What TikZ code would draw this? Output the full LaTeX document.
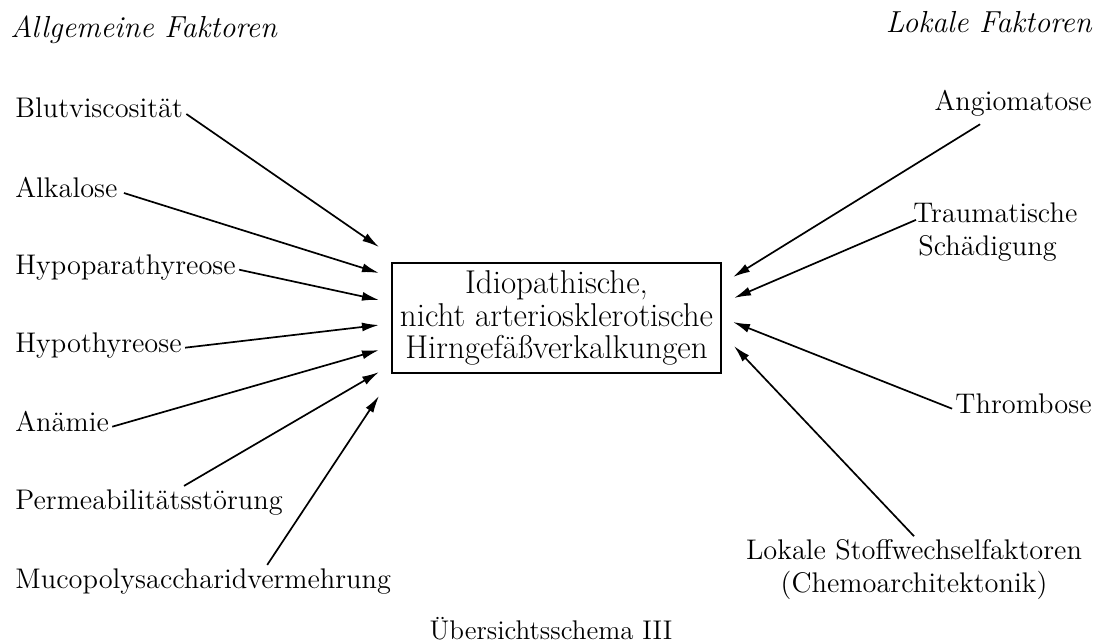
\documentclass[tikz,border=0pt]{standalone}
\usepackage{fontspec}
\usepackage{tikz}
\usetikzlibrary{arrows.meta}
\tikzstyle{factor} = [anchor=base west, inner sep=1.5pt, font=\fontsize{14.2}{16.2}\selectfont]
\tikzstyle{heading} = [inner sep=0pt, font=\fontsize{15.2}{17}\selectfont\itshape]
\tikzstyle{disease} = [rectangle, draw=black, line width=1pt, align=center, minimum width=164.5pt, minimum height=55pt, inner sep=2pt, font=\fontsize{16.5}{16.3}\selectfont]
\tikzstyle{arrow} = [line width=0.85pt, -{Latex[length=8.5pt, width=4.5pt]}]

\begin{document}
\begin{tikzpicture}[x=0.5pt, y=-0.5pt]
    \useasboundingbox (0,0) rectangle (1106,643);
    \node (12) [heading, anchor=base west] at (10,37) {Allgemeine Faktoren};
    \node (13) [heading, anchor=base east] at (1092,32) {Lokale Faktoren};
    \node (0) [disease] at (556.5,318) {Idiopathische,\\nicht arteriosklerotische\\Hirngefäßverkalkungen};
    % allgemeine Faktoren
    \node (1) [factor] at (12,117) {Blutviscosität};
    \node (2) [factor] at (12,197) {Alkalose};
    \node (3) [factor] at (12,274) {Hypoparathyreose};
    \node (4) [factor] at (12,352) {Hypothyreose};
    \node (5) [factor] at (12,431) {Anämie};
    \node (6) [factor] at (12,509) {Permeabilitätsstörung};
    \node (7) [factor] at (12,588) {Mucopolysaccharidvermehrung};
    % lokale Faktoren
    \node (8) [factor, anchor=base east] at (1095,110) {Angiomatose};
    \node (9) [factor, anchor=base west, align=left] at (910,255) {Traumatische\\\hspace{2.5pt}Schädigung};
    \node (10) [factor, anchor=base east] at (1095,413) {Thrombose};
    \node (11) [factor, anchor=base, align=center] at (914,592) {Lokale Stoffwechselfaktoren\\(Chemoarchitektonik)};
    \node (14) [inner sep=0pt, anchor=base, font=\fontsize{13.5}{15}\selectfont] at (551,639) {\addfontfeature{LetterSpace=3}Übersichtsschema III};
    \draw [arrow] ([shift={(0,-3)}]1.base east) -- ([shift={(-12,-71)}]0.west);
    \draw [arrow] ([shift={(3,-4)}]2.base east) -- ([shift={(-12,-45)}]0.west);
    \draw [arrow] (3.mid east) -- ([shift={(-12,-18)}]0.west);
    \draw [arrow] (4.mid east) -- ([shift={(-12,7)}]0.west);
    \draw [arrow] (5.mid east) -- ([shift={(-12,32)}]0.west);
    \draw [arrow] ([shift={(35,0)}]6.north) -- ([shift={(-12,54)}]0.west);
    \draw [arrow] ([shift={(64,0)}]7.north) -- ([shift={(-12,78)}]0.west);
    \draw [arrow] ([shift={(-33,5)}]8.south) -- ([shift={(11,-41)}]0.east);
    \draw [arrow] ([shift={(6,-12)}]9.west) -- ([shift={(12,-20)}]0.east);
    \draw [arrow] (10.mid west) -- ([shift={(11,4)}]0.east);
    \draw [arrow] (11.north) -- ([shift={(12,28)}]0.east);
  \end{tikzpicture}
\end{document}
